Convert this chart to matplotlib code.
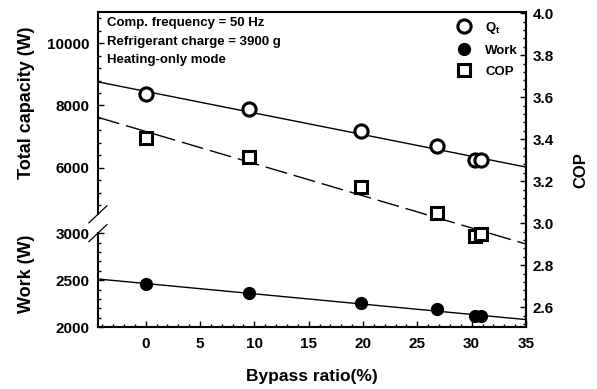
import numpy as np
import matplotlib
matplotlib.use("Agg")
import matplotlib.pyplot as plt
from matplotlib.lines import Line2D

plt.rcParams['font.family'] = ['Liberation Sans', 'DejaVu Sans']
plt.rcParams['font.weight'] = 'bold'
plt.rcParams['axes.labelweight'] = 'bold'
plt.rcParams['mathtext.fontset'] = 'custom'
plt.rcParams['mathtext.bf'] = 'Liberation Sans:bold'
plt.rcParams['mathtext.rm'] = 'Liberation Sans:bold'

bypass = [0, 9.5, 19.8, 26.8, 30.3, 30.85]
capacity = [8352, 7870, 7168, 6688, 6240, 6240]
work = [2457, 2362, 2255, 2191, 2117, 2117]
cop = [3.405, 3.314, 3.171, 3.048, 2.938, 2.948]

notes = ['Comp. frequency = 50 Hz', 'Refrigerant charge = 3900 g', 'Heating-only mode']

# broken left axis: 2000-3000 below, 4500-11000 above
w_knots = [2000, 3000, 4500, 11000]
v_knots = [0, 94, 112.8, 315]

def fwd(w):
    return np.interp(w, w_knots, v_knots, left=-1e3, right=1e4)

def inv(v):
    return np.interp(v, v_knots, w_knots)

fig = plt.figure(figsize=(5.97, 3.89), dpi=100)
ax = fig.add_axes([0.164, 0.159, 0.717, 0.81])
ax.set_yscale('function', functions=(fwd, inv))
ax.set_ylim(2000, 11000)
ax.set_xlim(-4.4, 35)

xx = np.array([-4.4, 35])
pq = np.polyfit(bypass, capacity, 1)
pw = np.polyfit(bypass, work, 1)
pc = np.polyfit(bypass, cop, 1)

ax.plot(xx, np.polyval(pq, xx), color='k', lw=1)
ax.plot(xx, np.polyval(pw, xx), color='k', lw=1)
ax.plot(bypass, capacity, 'o', ms=9.5, mfc='white', mec='k', mew=2.2, zorder=5)
ax.plot(bypass, work, 'o', ms=8.5, color='k', zorder=5)

ax.set_yticks([2000, 2500, 3000, 6000, 8000, 10000])
ax.set_yticklabels(['2000', '2500', '3000', '6000', '8000', '10000'])
minor = list(range(2100, 3000, 100)) + list(range(4800, 11000, 400))
ax.set_yticks(minor, minor=True)
ax.set_xticks(range(0, 36, 5))
ax.set_xticks(range(-4, 36), minor=True)

ax.spines['left'].set_visible(False)
for s in ['top', 'bottom', 'right']:
    ax.spines[s].set_linewidth(1.5)
ax.tick_params(axis='both', which='both', direction='in', labelsize=11, right=False)
ax.tick_params(which='major', length=4.5, width=1)
ax.tick_params(which='minor', length=2.5, width=1)
ax.tick_params(axis='y', pad=6)
ax.tick_params(axis='x', pad=7)

ytr = ax.get_yaxis_transform()
ax.plot([0, 0], [2000, 3000], transform=ytr, color='k', lw=1.5, clip_on=False)
ax.plot([0, 0], [4500, 11000], transform=ytr, color='k', lw=1.5, clip_on=False)
for w in [3000, 4500]:
    f = fwd(w) / fwd(11000)
    ax.plot([-0.021, 0.021], [f - 0.027, f + 0.027], transform=ax.transAxes,
            color='k', lw=0.9, clip_on=False)

ax.set_xlabel('Bypass ratio(%)', fontsize=12.5, labelpad=13)
ax.text(-0.166, 0.711, 'Total capacity (W)', transform=ax.transAxes, rotation=90,
        ha='center', va='center', fontsize=13)
ax.text(-0.166, 0.168, 'Work (W)', transform=ax.transAxes, rotation=90,
        ha='center', va='center', fontsize=13)

for i, t in enumerate(notes):
    ax.text(0.021, 0.965 - i * 0.059, t, transform=ax.transAxes, ha='left', va='center',
            fontsize=9.5)

ax2 = ax.twinx()
ax2.set_ylim(2.505, 4.005)
ax2.plot(xx, np.polyval(pc, xx), color='k', lw=1, dashes=(16, 5))
ax2.plot(bypass, cop, 's', ms=8.5, mfc='white', mec='k', mew=2.2, zorder=5)
ax2.set_yticks(np.arange(2.6, 4.01, 0.2))
ax2.set_yticks(np.arange(2.52, 4.005, 0.04), minor=True)
ax2.yaxis.set_major_formatter('{x:.1f}')
for s in ['left', 'top', 'bottom']:
    ax2.spines[s].set_visible(False)
ax2.spines['right'].set_linewidth(1.5)
ax2.tick_params(axis='y', which='both', direction='in', labelsize=11, pad=5)
ax2.tick_params(which='major', length=4.5, width=1)
ax2.tick_params(which='minor', length=2.5, width=1)
ax2.set_ylabel('COP', fontsize=12, labelpad=14)

handles = [
    Line2D([], [], ls='', marker='o', ms=9.5, mfc='white', mec='k', mew=2.2),
    Line2D([], [], ls='', marker='o', ms=8.5, color='k'),
    Line2D([], [], ls='', marker='s', ms=8.5, mfc='white', mec='k', mew=2.2),
]
ax2.legend(handles, [r'$\mathbf{Q_t}$', 'Work', 'COP'], loc='upper right',
           frameon=False, fontsize=9.5, handletextpad=1.0, labelspacing=0.65,
           borderaxespad=0.2, handlelength=1.2)

fig.savefig('out.png', dpi=100)
